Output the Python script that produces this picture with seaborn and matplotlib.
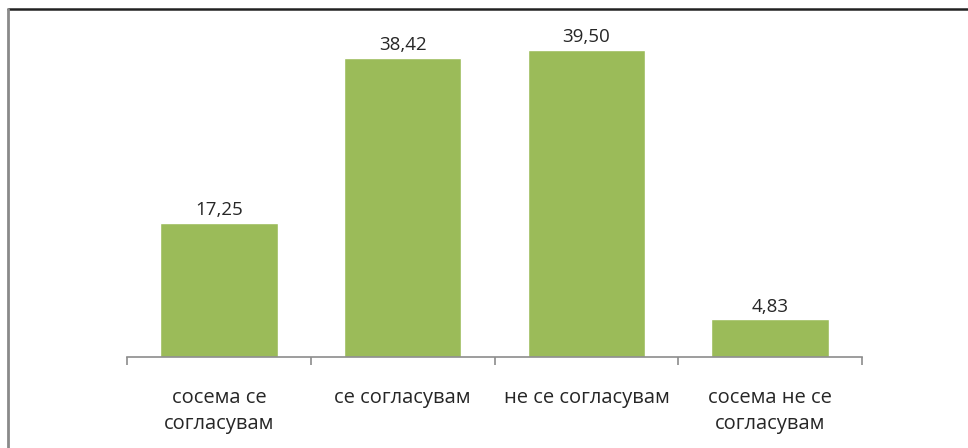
import seaborn as sns, numpy as np
import matplotlib.pyplot as plt
from matplotlib.lines import Line2D
import pandas as pd

categories = ['сосема се\nсогласувам', 'се согласувам', 'не се согласувам', 'сосема не се\nсогласувам']
values = [17.25, 38.42, 39.50, 4.83]

sns.set_style('white')
plt.rcParams['font.family'] = ['Open Sans', 'DejaVu Sans']

df = pd.DataFrame({'cat': categories, 'val': values})

fig = plt.figure(figsize=(9.68, 4.48), dpi=100)
ax = fig.add_axes([127/968, 1 - 357/448, (862-127)/968, 350/448])
sns.barplot(data=df, x='cat', y='val', color='#9BBB59', saturation=1, width=0.64, ax=ax)

for i, v in enumerate(values):
    ax.text(i, v + 0.5, ('%.2f' % v).replace('.', ','), ha='center', va='bottom',
            fontsize=13.5, color='#262626')

ax.set_ylim(0, 45)
ax.set_xlim(-0.5, 3.5)
ax.set_xlabel('')
ax.set_ylabel('')
ax.set_yticks([])
for s in ['top', 'right', 'left']:
    ax.spines[s].set_visible(False)
ax.spines['bottom'].set_color('#8c8c8c')
ax.spines['bottom'].set_linewidth(1.2)
ax.set_xticks(np.arange(-0.5, 4, 1), minor=True)
ax.tick_params(axis='x', which='minor', length=6, width=1.2, color='#8c8c8c', direction='out', bottom=True)
ax.tick_params(axis='x', which='major', length=0, pad=22, labelsize=14.5, labelcolor='#262626')
for lbl in ax.get_xticklabels():
    lbl.set_linespacing(1.4)

# chart frame
fig.add_artist(Line2D([7.5/968, 1], [1 - 9.5/448] * 2, color='#222222', lw=1.8, transform=fig.transFigure))
fig.add_artist(Line2D([7.5/968] * 2, [0, 1 - 9.5/448], color='#8a8a8a', lw=2, transform=fig.transFigure))

fig.savefig('out.png', dpi=100, facecolor='white')
